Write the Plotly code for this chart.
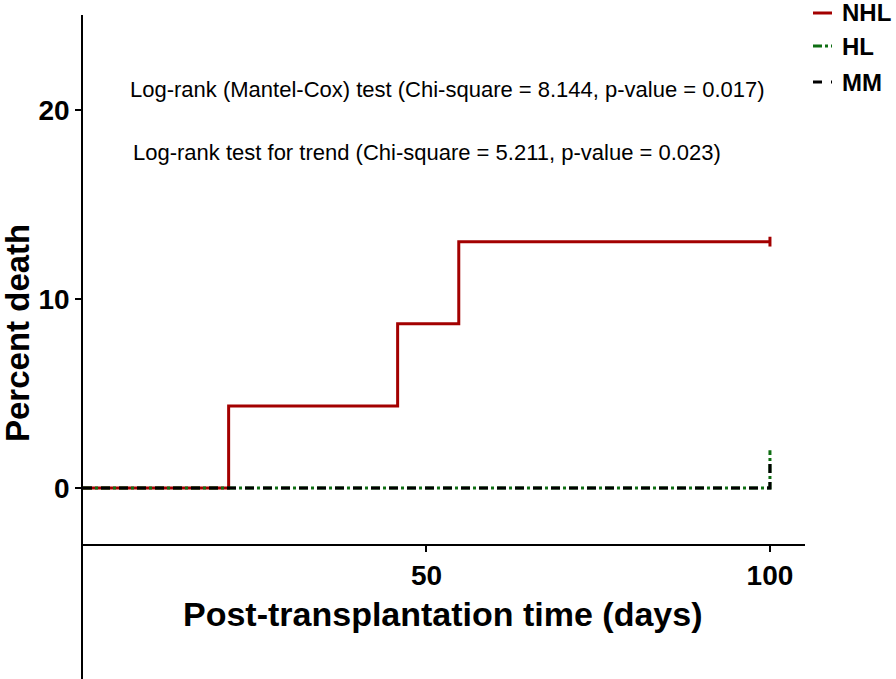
import plotly.graph_objects as go

# step data (percent death over days)
nhl_time = [0, 21.2, 45.8, 54.7, 100]
nhl_pct = [0, 4.35, 8.70, 13.04, 13.04]
hl_time = [0, 100, 100]
hl_pct = [0, 0, 2.0]
mm_time = [0, 100, 100]
mm_pct = [0, 0, 1.5]
# censored marks
nhl_cens_time = [100]
nhl_cens_pct = [13.04]

x_ticks = [50, 100]
y_ticks = [0, 10, 20]

groups = ["NHL", "HL", "MM"]
stats_lines = [
    "Log-rank (Mantel-Cox) test (Chi-square = 8.144, p-value = 0.017)",
    "Log-rank test for trend (Chi-square = 5.211, p-value = 0.023)",
]

RED = "#A30000"
GREEN = "#0E6E12"
W, H = 896, 679
# plot area in page pixels: x 83..805, y 15..679
L, T = 83, 15
R, B = W - 805, 0
pw, ph = W - L - R, H - T - B


def px(x):
    return (x - L) / pw


def py(y):
    return (H - B - y) / ph


fig = go.Figure()

fig.add_trace(go.Scatter(
    x=nhl_time, y=nhl_pct, mode="lines", line_shape="hv",
    line=dict(color=RED, width=3), name="NHL"))
fig.add_trace(go.Scatter(
    x=nhl_cens_time, y=nhl_cens_pct, mode="markers",
    marker=dict(symbol="line-ns", size=7, line=dict(color=RED, width=3)),
    name="NHL censored"))
fig.add_trace(go.Scatter(
    x=hl_time, y=hl_pct, mode="lines",
    line=dict(color=GREEN, width=3, dash="dashdot"), name="HL"))
fig.add_trace(go.Scatter(
    x=mm_time, y=mm_pct, mode="lines",
    line=dict(color="black", width=3, dash="dash"), name="MM"))

# stats text
fig.add_annotation(x=px(448), y=py(90), xref="paper", yref="paper", text=stats_lines[0],
                   showarrow=False, xanchor="center", yanchor="middle", font=dict(size=22))
fig.add_annotation(x=px(427), y=py(152), xref="paper", yref="paper", text=stats_lines[1],
                   showarrow=False, xanchor="center", yanchor="middle", font=dict(size=22))

# axis titles
fig.add_annotation(x=px(443), y=py(614), xref="paper", yref="paper",
                   text="Post-transplantation time (days)", showarrow=False,
                   xanchor="center", yanchor="middle", font=dict(size=34, weight="bold"))
fig.add_annotation(x=px(17), y=py(333), xref="paper", yref="paper",
                   text="Percent death", showarrow=False, textangle=-90,
                   xanchor="center", yanchor="middle", font=dict(size=33, weight="bold"))

# custom legend with short line keys
leg_colors = [RED, GREEN, "black"]
leg_dash = ["solid", "dashdot", "dash"]
leg_y = [13, 46, 82]
for name, col, dsh, yy in zip(groups, leg_colors, leg_dash, leg_y):
    fig.add_shape(type="line", xref="paper", yref="paper",
                  x0=px(813), x1=px(832), y0=py(yy), y1=py(yy),
                  line=dict(color=col, width=3, dash=dsh))
    fig.add_annotation(x=px(840), y=py(yy), xref="paper", yref="paper", text=name,
                       showarrow=False, xanchor="left", yanchor="middle",
                       font=dict(size=24, weight="bold"))

fig.update_layout(
    width=W, height=H,
    margin=dict(l=L, r=R, t=T, b=B, autoexpand=False),
    paper_bgcolor="white", plot_bgcolor="white",
    font=dict(family="Arial, Liberation Sans, sans-serif", color="black"),
    showlegend=False,
    xaxis=dict(range=[0, 105.1], tickvals=x_ticks, showgrid=False, zeroline=False,
               showline=True, linecolor="black", linewidth=1.5,
               ticks="outside", ticklen=6, tickwidth=1.5, tickcolor="black",
               tickfont=dict(size=28, weight="bold"),
               anchor="free", position=py(545)),
    yaxis=dict(range=[-10.1, 25.03], tickvals=y_ticks, showgrid=False, zeroline=False,
               showline=True, linecolor="black", linewidth=1.5,
               ticks="outside", ticklen=6, tickwidth=1.5, tickcolor="black",
               tickfont=dict(size=28, weight="bold")),
)

# page has a default 8px body margin; remove it so the figure fills the window
fig.write_html("out.html", config={"displayModeBar": False},
               post_script="document.body.style.margin='0';")
